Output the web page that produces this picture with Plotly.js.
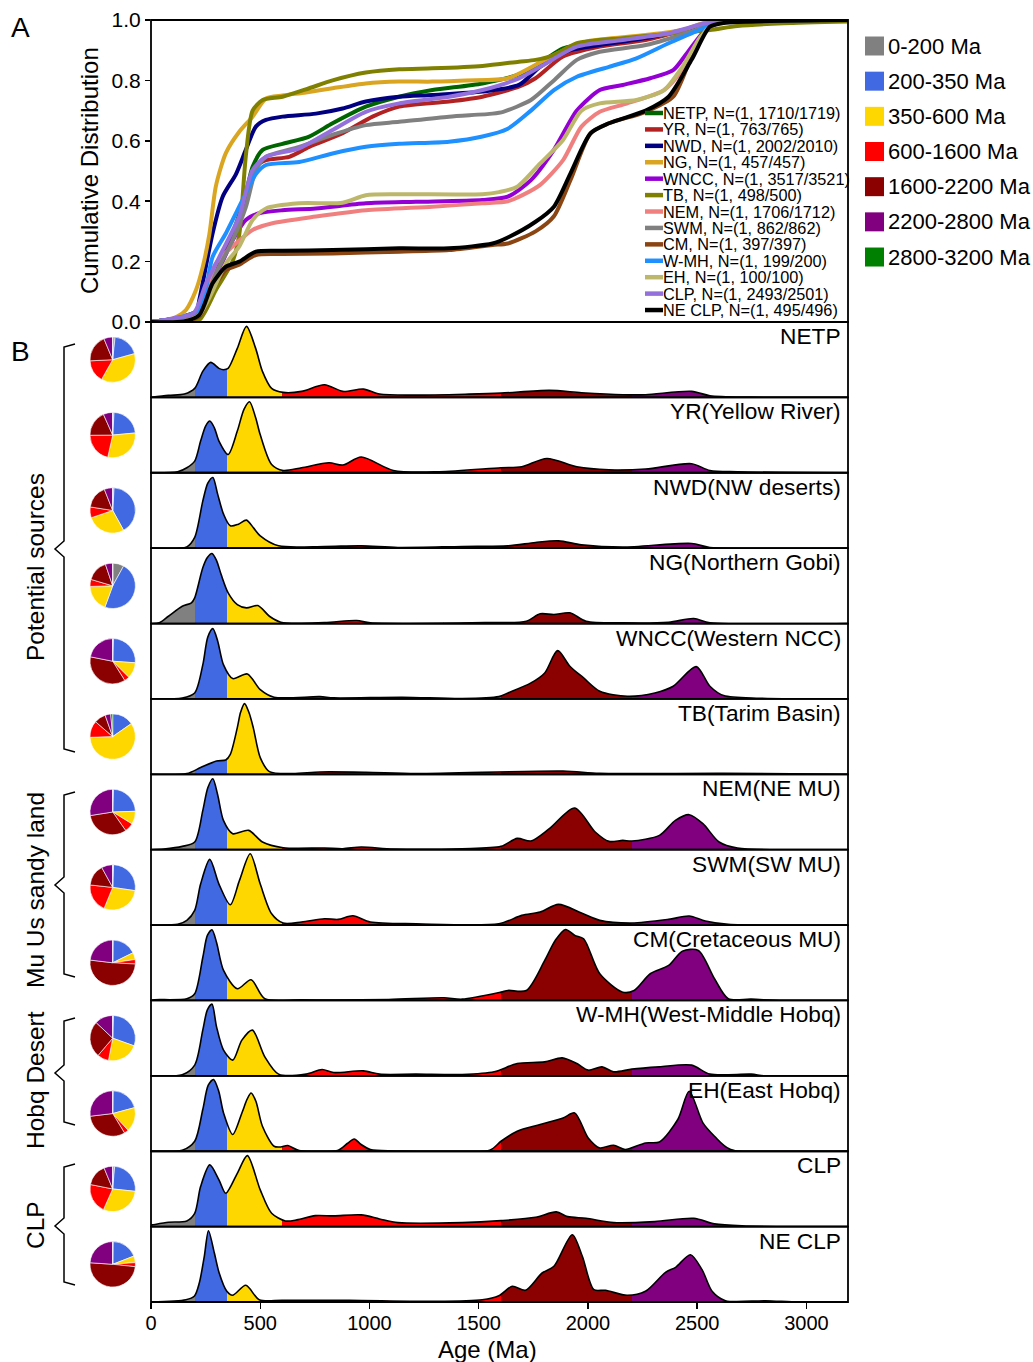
<!DOCTYPE html>
<html><head><meta charset="utf-8">
<script src="https://cdn.plot.ly/plotly-3.0.1.min.js"></script>
<style>body{margin:0;padding:0;background:#fff}#chart{width:1033px;height:1362px}</style>
</head><body><div id="chart"></div>
<script>
// ---------------- DATA ----------------
const sampleNames = ['NETP','YR','NWD','NG','WNCC','TB','NEM','SWM','CM','W-MH','EH','CLP','NE CLP'];
const rowLabels = ['NETP','YR(Yellow River)','NWD(NW deserts)','NG(Northern Gobi)','WNCC(Western NCC)','TB(Tarim Basin)','NEM(NE MU)','SWM(SW MU)','CM(Cretaceous MU)','W-MH(West-Middle Hobq)','EH(East Hobq)','CLP','NE CLP'];
const cdfN = ['1710/1719','763/765','2002/2010','457/457','3517/3521','498/500','1706/1712','862/862','397/397','199/200','100/100','2493/2501','495/496'];
const ageGroups = ['0-200 Ma','200-350 Ma','350-600 Ma','600-1600 Ma','1600-2200 Ma','2200-2800 Ma','2800-3200 Ma'];
const ageBounds = [0,200,350,600,1600,2200,2800,3200];
const xTicks = [0,500,1000,1500,2000,2500,3000];
const yTicks = [0,0.2,0.4,0.6,0.8,1.0];
const groupLabels = ['Potential sources','Mu Us sandy land','Hobq Desert','CLP'];

// KDE curves (age in Ma, relative density)
const kdeAge_NETP = [0,80,153,200,237,273,311,332,353,395,437,479,510,552,605,689,794,878,972,1046,1214,1455,1602,1823,1970,2159,2264,2474,2558,2747,3200];
const kdeDen_NETP = [0,2,3.3,9,26,35,29,27.7,29,49,71,49,26,9,5,6,12.7,6,8.3,3.3,2.3,3.3,4.3,7,4.7,2.7,2.7,6,1.7,0.3,0];
const kdeAge_YR = [0,122,164,200,227,250,269,290,311,353,395,426,451,479,500,552,605,689,815,878,962,1109,1319,1602,1697,1812,1949,2096,2264,2474,2558,2684,3200];
const kdeDen_YR = [0,1,5,11.7,31.7,46.7,51.7,45,31.7,18.3,41.7,63.7,71,55,38,8.3,2.3,5,10,7.7,15.7,2.3,1,5,6,14.3,6,3,3.7,9,2.3,1,0];
const kdeAge_NWD = [0,164,200,237,260,283,305,332,363,400,437,470,500,584,794,962,1130,1424,1634,1760,1865,1970,2159,2474,2558,3200];
const kdeDen_NWD = [0,1.3,10.7,47,65,70.7,54,34,22.3,24,28,20,12.3,2.3,1.7,2.3,0.7,1.7,2.3,5.7,7.3,3.3,1,4.7,0.7,0];
const kdeAge_NG = [0,38,80,143,185,200,237,258,279,300,321,353,395,437,489,542,594,794,941,1004,1529,1718,1781,1844,1917,1991,2159,2369,2484,2558,3200];
const kdeDen_NG = [0,0.7,7.3,17.3,20.7,25.7,55.7,66,70,63,49,30.7,19,15.7,18,7.3,1.3,1,3,0.7,1,2.3,9.7,9,10.7,2.3,0.7,1.3,5,0.7,0];
const kdeAge_WNCC = [0,143,200,237,260,283,305,332,374,441,500,563,773,836,1151,1424,1592,1634,1739,1802,1861,1917,1980,2054,2180,2306,2390,2495,2558,2621,2789,3200];
const kdeDen_WNCC = [0,1,6,34,62,70.3,58,34,20.3,25,9.3,1.7,2.3,1,1.7,0.3,2.3,6,16,26,48.3,32.7,21,7.7,2.7,6,12.7,32.3,12.7,3.3,0.7,0];
const kdeAge_TB = [0,164,227,300,342,363,395,410,428,448,468,500,542,647,773,983,1214,1886,2054,2621,3200];
const kdeDen_TB = [0,0.7,6.7,13.3,14.3,20,46.7,62,70.7,62,46.7,16.7,2.7,0.7,2.3,2,0.7,3.3,1,1,0];
const kdeAge_NEM = [0,59,143,200,237,260,283,305,332,374,447,510,605,794,878,962,1109,1424,1602,1676,1739,1823,1939,2033,2096,2159,2201,2327,2400,2463,2526,2600,2684,3200];
const kdeDen_NEM = [0,0.7,3.3,7.7,39,62,71,55,29,16,19.3,7.7,2,1.7,1,2.7,0.7,1,3.3,11.3,8.7,21,41.7,17.7,8.3,9.3,8.7,14.3,29.3,35,26,7.7,1.7,0];
const kdeAge_SWM = [0,122,164,200,227,269,311,363,405,454,500,552,605,689,794,857,924,1004,1214,1592,1697,1781,1865,1970,2054,2201,2369,2463,2537,2642,3200];
const kdeDen_SWM = [0,0.7,4.7,14.7,41,65.7,41,20.3,44.7,71.3,41,11.3,2,3,6.3,5.7,9.3,3,1.3,1.3,9.7,13,20.7,12,4.7,2,5.7,9,4,0.7,0];
const kdeAge_CM = [0,17,164,200,237,258,279,300,332,395,458,521,689,1088,1340,1424,1602,1634,1718,1802,1850,1897,1940,1980,2054,2159,2211,2285,2369,2432,2505,2579,2642,2747,2894,3200];
const kdeDen_CM = [0,0.7,1.7,6.7,43,65,70.7,58,30,11.7,20.7,1.7,0.7,1,2.7,1.3,8.3,10,10,40,60,71,65,61.7,26.7,8.3,10,26.7,35,49.3,50,21.7,1.7,1.3,0,0];
const kdeAge_WMH = [0,143,200,237,258,279,300,332,374,416,464,521,584,710,783,836,972,1046,1214,1424,1571,1676,1802,1882,1949,2001,2064,2117,2201,2327,2474,2558,2747,2810,3200];
const kdeDen_WMH = [0,1,10.7,45.7,66,71.7,49,25.7,15.7,35.7,45.7,19,1.7,1.7,6.3,3.3,5,1.7,1.7,1.3,4,12.3,14,18,12.3,5.7,9,4,6.7,9,10.7,1.7,1.7,0,0];
const kdeAge_EH = [0,143,200,237,262,286,310,332,374,416,440,458,480,510,563,594,626,678,857,900,930,960,1004,1109,1550,1602,1676,1781,1886,1939,2001,2054,2117,2170,2264,2327,2411,2463,2526,2579,2653,3200];
const kdeDen_EH = [0,1,10,41.7,66,71.7,60,38.3,16.7,38.3,52,58.3,50,25,5,4.3,5.7,0.7,1,8,12.3,7,1.7,0.3,1,10,20,26.7,33.3,38.3,13.3,3.3,6,1.7,8.3,9.3,31.7,60,28.3,15,1.7,0];
const kdeAge_CLP = [0,6,80,164,200,227,269,311,342,395,441,500,552,615,668,752,836,962,1046,1130,1424,1602,1760,1855,1907,1991,2117,2306,2484,2579,2705,3200];
const kdeDen_CLP = [1.5,1.7,4.3,5.7,13.3,40,61.7,46.7,33.3,53.3,71,36.7,13.3,5.7,6.7,11,10.7,11.7,7.7,4,4,6,9.3,14.7,10,8.3,4,5,8.3,2.7,0.7,0];
const kdeAge_NECLP = [0,160,198,221,244,263,290,312,347,373,434,495,602,907,1288,1516,1592,1653,1714,1790,1844,1928,1974,2027,2080,2179,2263,2355,2401,2469,2522,2568,2629,2812,2964,3200];
const kdeDen_NECLP = [0,2.3,5.7,19,45.7,71.3,49,29,10.7,6.7,16.7,2.3,1.7,1.7,0.7,2.3,6.3,15.7,11.7,29,35.7,67.3,45.7,12.3,11.7,6.7,10.7,29.7,34.7,47.3,32.3,10.7,1.3,1.3,0,0];

// Cumulative distributions
const cdfAge_NETP = [0,100,221,297,373,434,465,511,602,724,831,983,1136,1288,1517,1697,1802,1886,2054,2369,2558,2700,3200];
const cdfVal_NETP = [0,0.01,0.04,0.18,0.294,0.426,0.514,0.57,0.59,0.614,0.658,0.713,0.746,0.768,0.79,0.823,0.868,0.906,0.928,0.956,0.989,0.998,1];
const cdfAge_YR = [0,100,221,297,373,434,480,526,633,724,877,1014,1136,1364,1517,1684,1760,1886,2054,2264,2474,2579,2700,3200];
const cdfVal_YR = [0,0.01,0.04,0.183,0.294,0.40,0.514,0.536,0.547,0.58,0.625,0.68,0.713,0.73,0.746,0.779,0.807,0.879,0.912,0.934,0.973,0.995,0.999,1];
const cdfAge_NWD = [0,100,206,221,282,328,389,434,480,526,602,755,877,983,1136,1288,1517,1684,1781,1920,2054,2264,2474,2600,3200];
const cdfVal_NWD = [0,0.01,0.03,0.073,0.294,0.415,0.49,0.57,0.647,0.669,0.68,0.69,0.707,0.73,0.746,0.752,0.763,0.785,0.845,0.90,0.917,0.94,0.973,0.992,1];
const cdfAge_NG = [0,68,120,160,206,236,267,297,343,404,465,526,602,709,831,983,1136,1288,1440,1633,1802,1920,2000,2264,2432,2558,3200];
const cdfVal_NG = [0,0.005,0.018,0.04,0.106,0.18,0.29,0.45,0.56,0.63,0.68,0.74,0.75,0.76,0.774,0.79,0.796,0.796,0.80,0.807,0.868,0.91,0.93,0.95,0.967,0.995,1];
const cdfAge_WNCC = [0,100,221,297,373,434,495,602,755,983,1212,1517,1633,1739,1844,1949,2054,2159,2285,2390,2453,2537,2600,3200];
const cdfVal_WNCC = [0,0.01,0.034,0.15,0.27,0.338,0.36,0.37,0.376,0.393,0.398,0.404,0.415,0.47,0.57,0.70,0.768,0.785,0.807,0.834,0.89,0.967,0.99,1];
const cdfAge_TB = [0,150,221,297,373,404,434,465,511,602,724,831,983,1136,1288,1517,1684,1760,1844,1949,2159,2369,2558,2684,2894,3200];
const cdfVal_TB = [0,0.003,0.007,0.106,0.2,0.29,0.55,0.70,0.735,0.746,0.774,0.80,0.826,0.837,0.84,0.848,0.862,0.868,0.884,0.923,0.94,0.954,0.967,0.98,0.989,0.995];
const cdfAge_NEM = [0,100,221,297,373,465,556,755,983,1288,1517,1633,1700,1781,1886,1970,2054,2180,2348,2432,2495,2558,2650,3200];
const cdfVal_NEM = [0,0.01,0.034,0.194,0.25,0.305,0.327,0.349,0.37,0.382,0.393,0.40,0.42,0.454,0.536,0.647,0.696,0.724,0.768,0.834,0.912,0.978,0.997,1];
const cdfAge_SWM = [0,100,221,297,373,434,480,526,678,831,983,1136,1364,1563,1612,1739,1844,1949,2054,2264,2474,2579,3200];
const cdfVal_SWM = [0,0.01,0.034,0.161,0.27,0.38,0.503,0.547,0.58,0.62,0.652,0.663,0.68,0.69,0.696,0.735,0.80,0.868,0.895,0.917,0.962,0.99,1];
const cdfAge_CM = [0,150,221,282,343,404,480,602,831,1136,1364,1563,1633,1760,1844,1920,2012,2096,2264,2390,2474,2537,2600,3200];
const cdfVal_CM = [0,0.002,0.018,0.106,0.172,0.19,0.222,0.225,0.227,0.233,0.238,0.255,0.26,0.30,0.35,0.47,0.625,0.658,0.696,0.746,0.88,0.967,0.99,1];
const cdfAge_WMH = [0,100,221,282,343,419,480,526,678,831,983,1136,1364,1517,1633,1739,1844,1949,2096,2222,2369,2474,2600,3200];
const cdfVal_WMH = [0,0.01,0.04,0.216,0.294,0.404,0.49,0.52,0.53,0.558,0.58,0.59,0.597,0.614,0.64,0.70,0.768,0.812,0.845,0.873,0.923,0.956,0.99,1];
const cdfAge_EH = [0,150,221,343,404,465,526,678,877,983,1136,1517,1593,1676,1781,1886,1970,2054,2222,2348,2432,2516,2579,3200];
const cdfVal_EH = [0,0.002,0.023,0.194,0.25,0.338,0.376,0.393,0.395,0.42,0.423,0.423,0.43,0.448,0.525,0.603,0.70,0.724,0.735,0.768,0.845,0.945,0.989,1];
const cdfAge_CLP = [0,100,196,252,313,404,465,526,678,831,983,1136,1364,1517,1684,1781,1949,2159,2369,2537,2650,3200];
const cdfVal_CLP = [0,0.012,0.03,0.128,0.216,0.35,0.503,0.547,0.575,0.636,0.696,0.724,0.746,0.768,0.807,0.845,0.912,0.934,0.956,0.989,0.998,1];
const cdfAge_NECLP = [0,150,221,282,343,404,480,602,831,1136,1364,1563,1633,1760,1844,1920,2012,2096,2264,2369,2474,2558,2621,3200];
const cdfVal_NECLP = [0,0.002,0.023,0.128,0.183,0.20,0.233,0.236,0.238,0.244,0.244,0.26,0.28,0.332,0.382,0.492,0.625,0.658,0.70,0.746,0.868,0.978,0.99,1];

// Pie proportions (%) in age-group order
const pie_NETP = [1.7,19,37.5,16,19.5,6.3,0];
const pie_YR = [1,22.5,30,21.4,18.4,6.7,0];
const pie_NWD = [1,41,27.8,7.7,16.5,6,0];
const pie_NG = [8,47.6,19,5,15.2,5.2,0];
const pie_WNCC = [0.5,25.6,11.4,3.6,37,21.9,0];
const pie_TB = [0,15.3,59.2,11.9,8.2,4,1.4];
const pie_NEM = [0.5,24,9.3,6.5,32.2,27.5,0];
const pie_SWM = [0.6,26.7,28.9,20.5,15.3,8,0];
const pie_CM = [0.3,17.4,5,3.2,51,23.1,0];
const pie_WMH = [0.5,30,22.5,8.2,25.8,13,0];
const pie_EH = [0.3,20.5,17.4,3.1,31.8,26.9,0];
const pie_CLP = [1.4,25.3,30,21.4,15.7,6.2,0];
const pie_NECLP = [0.3,18.8,4.7,2.9,49.4,23.9,0];

const kdeAges = [kdeAge_NETP,kdeAge_YR,kdeAge_NWD,kdeAge_NG,kdeAge_WNCC,kdeAge_TB,kdeAge_NEM,kdeAge_SWM,kdeAge_CM,kdeAge_WMH,kdeAge_EH,kdeAge_CLP,kdeAge_NECLP];
const kdeDens = [kdeDen_NETP,kdeDen_YR,kdeDen_NWD,kdeDen_NG,kdeDen_WNCC,kdeDen_TB,kdeDen_NEM,kdeDen_SWM,kdeDen_CM,kdeDen_WMH,kdeDen_EH,kdeDen_CLP,kdeDen_NECLP];
const cdfAges = [cdfAge_NETP,cdfAge_YR,cdfAge_NWD,cdfAge_NG,cdfAge_WNCC,cdfAge_TB,cdfAge_NEM,cdfAge_SWM,cdfAge_CM,cdfAge_WMH,cdfAge_EH,cdfAge_CLP,cdfAge_NECLP];
const cdfVals = [cdfVal_NETP,cdfVal_YR,cdfVal_NWD,cdfVal_NG,cdfVal_WNCC,cdfVal_TB,cdfVal_NEM,cdfVal_SWM,cdfVal_CM,cdfVal_WMH,cdfVal_EH,cdfVal_CLP,cdfVal_NECLP];
const pies = [pie_NETP,pie_YR,pie_NWD,pie_NG,pie_WNCC,pie_TB,pie_NEM,pie_SWM,pie_CM,pie_WMH,pie_EH,pie_CLP,pie_NECLP];

// ---------------- STYLE / LAYOUT ----------------
const W = 1033, H = 1362;
const FONT = 'Liberation Sans, Arial, Helvetica, sans-serif';
const ageColors = ['#808080','#4169E1','#FFD700','#FF0000','#8B0000','#800080','#008000'];
const cdfColors = ['#006400','#B22222','#000080','#DAA520','#9400D3','#808000','#F08080','#808080','#8B4513','#1E90FF','#BDB76B','#9370DB','#000000'];
const plotL = 151, plotR = 848, aTop = 20, aBot = 322, bBot = 1302;
const rowH = (bBot - aBot) / 13;
const X = v => v / W;
const Y = v => 1 - v / H;
const XMAX = 3190;

// stepped colour scale for the age-group fills
const ageScale = [];
for (let i = 0; i < ageColors.length; i++) {
  ageScale.push([ageBounds[i] / 3200, ageColors[i]]);
  ageScale.push([ageBounds[i + 1] / 3200, ageColors[i]]);
}

const traces = [];
// Panel A: cumulative curves
sampleNames.forEach((n, i) => {
  traces.push({
    type: 'scatter', mode: 'lines', x: cdfAges[i], y: cdfVals[i], xaxis: 'x', yaxis: 'y',
    line: {color: cdfColors[i], width: 4, shape: 'spline', smoothing: 0.7},
    name: n, showlegend: false, hoverinfo: 'skip'
  });
});
// Panel B: KDE ridges
sampleNames.forEach((n, i) => {
  traces.push({
    type: 'scatter', mode: 'lines', x: kdeAges[i], y: kdeDens[i], xaxis: 'x', yaxis: 'y' + (i + 2),
    line: {color: '#000', width: 1.6, shape: 'spline', smoothing: 0.8},
    fill: 'tozeroy', fillcolor: '#4169E1',
    fillgradient: {type: 'horizontal', start: 0, stop: 3200, colorscale: ageScale},
    name: n, showlegend: false, hoverinfo: 'skip'
  });
});
// Pies
const pieCx = 112.7, pieR = 22.7;
sampleNames.forEach((n, i) => {
  const cy = aBot + rowH * (i + 0.5);
  traces.push({
    type: 'pie', values: pies[i], labels: ageGroups, sort: false, direction: 'clockwise', rotation: 0,
    marker: {colors: ageColors, line: {color: '#ffffff', width: 0.6}},
    textinfo: 'none', hoverinfo: 'skip', showlegend: false,
    domain: {x: [X(pieCx - pieR), X(pieCx + pieR)], y: [Y(cy + pieR), Y(cy - pieR)]}
  });
});

const layout = {
  width: W, height: H, margin: {l: 0, r: 0, t: 0, b: 0, pad: 0},
  paper_bgcolor: '#fff', plot_bgcolor: 'rgba(0,0,0,0)', showlegend: false,
  font: {family: FONT, color: '#000'},
  xaxis: {
    domain: [X(plotL), X(plotR)], range: [0, XMAX], anchor: 'y14',
    tickvals: xTicks, ticktext: xTicks.map(String), ticks: 'outside', ticklen: 6, tickwidth: 1.5,
    tickcolor: '#000', showgrid: false, zeroline: false, showline: false, ticklabelstandoff: -3,
    tickfont: {size: 20, family: FONT}
  },
  yaxis: {
    domain: [Y(aBot), Y(aTop)], range: [0, 1], anchor: 'x',
    tickvals: yTicks, ticktext: yTicks.map(v => v.toFixed(1)), ticks: 'outside', ticklen: 5, tickwidth: 1.5,
    tickcolor: '#000', showgrid: false, zeroline: false, showline: false,
    tickfont: {size: 21, family: FONT}
  },
  shapes: [], annotations: []
};
for (let i = 0; i < 13; i++) {
  const top = aBot + rowH * i, bot = top + rowH;
  layout['yaxis' + (i + 2)] = {
    domain: [Y(bot), Y(top)], range: [0, rowH], anchor: 'x',
    showticklabels: false, ticks: '', showgrid: false, zeroline: false, showline: false
  };
}
// frames
layout.shapes.push({type: 'rect', xref: 'x domain', yref: 'y domain', x0: 0, x1: 1, y0: 0, y1: 1, line: {color: '#000', width: 1.8}});
for (let i = 0; i < 13; i++) {
  layout.shapes.push({type: 'rect', xref: 'x domain', yref: 'y' + (i + 2) + ' domain', x0: 0, x1: 1, y0: 0, y1: 1, line: {color: '#000', width: 1.8}});
}
// row labels
rowLabels.forEach((t, i) => {
  const top = aBot + rowH * i;
  layout.annotations.push({text: t, xref: 'paper', yref: 'paper', x: X(843), y: Y(top + 14), xanchor: 'right', yanchor: 'middle',
    showarrow: false, font: {size: 22.7, family: FONT}});
});
// CDF legend (inside panel A)
sampleNames.forEach((n, i) => {
  const yc = 113 + i * 16.42;
  layout.shapes.push({type: 'line', xref: 'paper', yref: 'paper', x0: X(645), x1: X(663), y0: Y(yc), y1: Y(yc),
    line: {color: cdfColors[i], width: 4.5}});
  layout.annotations.push({text: n + ', N=(1, ' + cdfN[i] + ')', xref: 'paper', yref: 'paper', x: X(661), y: Y(yc),
    xanchor: 'left', yanchor: 'middle', showarrow: false, font: {size: 16.3, family: FONT}});
});
// Age-group colour legend
ageGroups.forEach((g, i) => {
  const yc = 46 + i * 35.17;
  layout.shapes.push({type: 'rect', xref: 'paper', yref: 'paper', x0: X(865), x1: X(884), y0: Y(yc + 9.5), y1: Y(yc - 9.5),
    line: {width: 0}, fillcolor: ageColors[i]});
  layout.annotations.push({text: g, xref: 'paper', yref: 'paper', x: X(886), y: Y(yc), xanchor: 'left', yanchor: 'middle',
    showarrow: false, font: {size: 22, family: FONT}});
});
// brackets
function bracket(top, mid, bot) {
  const pts = [[75, top - 1], [64, top + 2], [64, mid - 8], [55, mid], [64, mid + 8], [64, bot - 2], [75, bot + 1]];
  return 'M ' + pts.map(p => X(p[0]).toFixed(5) + ',' + Y(p[1]).toFixed(5)).join(' L ');
}
const brackets = [[345, 549, 751], [793, 885, 976], [1019, 1073, 1124], [1165, 1226, 1284]];
const groupCenters = [567, 890, 1080, 1225];
brackets.forEach((b, i) => {
  layout.shapes.push({type: 'path', xref: 'paper', yref: 'paper', path: bracket(b[0], b[1], b[2]), line: {color: '#000', width: 1.5}});
  layout.annotations.push({text: groupLabels[i], xref: 'paper', yref: 'paper', x: X(35), y: Y(groupCenters[i]), textangle: -90,
    xanchor: 'center', yanchor: 'middle', showarrow: false, font: {size: 24.5, family: FONT}});
});
// panel letters & axis titles
layout.annotations.push({text: 'A', xref: 'paper', yref: 'paper', x: X(20), y: Y(27), xanchor: 'center', yanchor: 'middle', showarrow: false, font: {size: 28, family: FONT}});
layout.annotations.push({text: 'B', xref: 'paper', yref: 'paper', x: X(20), y: Y(351), xanchor: 'center', yanchor: 'middle', showarrow: false, font: {size: 28, family: FONT}});
layout.annotations.push({text: 'Cumulative Distribution', xref: 'paper', yref: 'paper', x: X(90), y: Y(171), textangle: -90, xanchor: 'center', yanchor: 'middle', showarrow: false, font: {size: 24, family: FONT}});
layout.annotations.push({text: 'Age (Ma)', xref: 'paper', yref: 'paper', x: X(487), y: Y(1349), xanchor: 'center', yanchor: 'middle', showarrow: false, font: {size: 24, family: FONT}});

Plotly.newPlot('chart', traces, layout, {staticPlot: true, displayModeBar: false});
</script>
</body></html>
